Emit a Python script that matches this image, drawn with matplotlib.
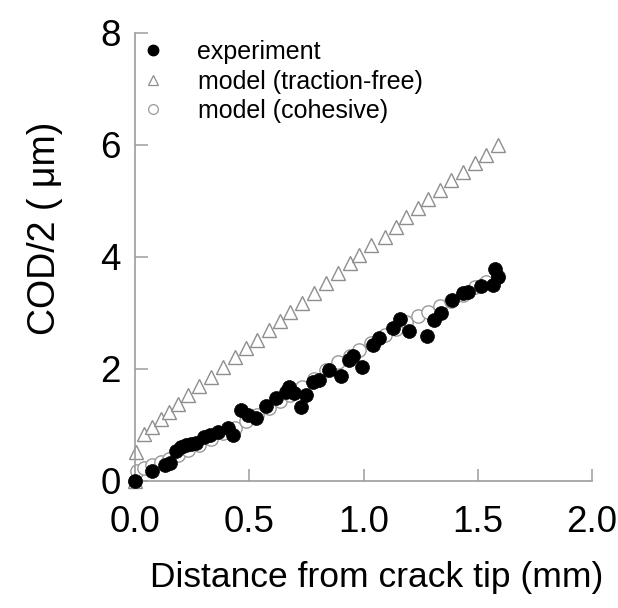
import matplotlib
matplotlib.use("Agg")
import matplotlib.pyplot as plt
from matplotlib.lines import Line2D

plt.rcParams['font.family'] = ['Liberation Sans', 'DejaVu Sans']

# experiment (black dots)
exp_x = [0.0, 0.075, 0.13, 0.152, 0.18, 0.20, 0.222, 0.245, 0.266, 0.30, 0.33, 0.365,
         0.405, 0.427, 0.466, 0.495, 0.53, 0.573, 0.617, 0.661, 0.675, 0.697, 0.727,
         0.749, 0.778, 0.807, 0.848, 0.902, 0.936, 0.956, 0.994, 1.04, 1.07, 1.129,
         1.16, 1.199, 1.278, 1.307, 1.34, 1.389, 1.436, 1.457, 1.516, 1.567, 1.575, 1.589]
exp_y = [0.0, 0.17, 0.28, 0.33, 0.53, 0.60, 0.64, 0.66, 0.68, 0.78, 0.82, 0.88,
         0.94, 0.82, 1.27, 1.18, 1.12, 1.34, 1.49, 1.59, 1.67, 1.57, 1.33,
         1.54, 1.77, 1.80, 1.98, 1.875, 2.16, 2.23, 2.04, 2.43, 2.55, 2.73,
         2.89, 2.67, 2.59, 2.875, 3.0, 3.24, 3.35, 3.38, 3.48, 3.5, 3.78, 3.65]

# model (traction-free) (open triangles)
tf_x = [0.0, 0.006, 0.04, 0.076, 0.112, 0.149, 0.19, 0.232, 0.28, 0.334, 0.387, 0.437,
        0.485, 0.536, 0.587, 0.634, 0.68, 0.73, 0.785, 0.836, 0.887, 0.939, 0.982,
        1.034, 1.092, 1.143, 1.187, 1.238, 1.282, 1.333, 1.385, 1.435, 1.487, 1.538, 1.589]
tf_y = [0.0, 0.52, 0.84, 0.97, 1.10, 1.23, 1.375, 1.54, 1.70, 1.86, 2.03, 2.21,
        2.37, 2.52, 2.70, 2.86, 3.01, 3.18, 3.35, 3.53, 3.71, 3.89, 4.04,
        4.21, 4.36, 4.54, 4.71, 4.87, 5.03, 5.20, 5.375, 5.52, 5.67, 5.82, 6.0]

# model (cohesive) (open circles)
co_x = [0.0, 0.01, 0.04, 0.076, 0.112, 0.149, 0.19, 0.232, 0.28, 0.334, 0.387, 0.437,
        0.485, 0.536, 0.587, 0.634, 0.68, 0.73, 0.785, 0.836, 0.887, 0.939, 0.982,
        1.034, 1.092, 1.143, 1.187, 1.238, 1.282, 1.333, 1.385, 1.435, 1.487, 1.538, 1.589]
co_y = [0.0, 0.18, 0.24, 0.29, 0.34, 0.39, 0.47, 0.55, 0.64, 0.75, 0.85, 0.95,
        1.07, 1.18, 1.30, 1.42, 1.54, 1.68, 1.82, 1.98, 2.12, 2.24, 2.34,
        2.46, 2.60, 2.72, 2.84, 2.94, 3.02, 3.12, 3.22, 3.32, 3.46, 3.56, 3.66]

xticks = [0.0, 0.5, 1.0, 1.5, 2.0]
xticklabels = ['0.0', '0.5', '1.0', '1.5', '2.0']
yticks = [0, 2, 4, 6, 8]
yticklabels = ['0', '2', '4', '6', '8']

W, H = 618, 608
fig = plt.figure(figsize=(W / 100, H / 100), dpi=100)
ax = fig.add_axes([135 / W, 1 - 481 / H, 457 / W, 448 / H])

gray_edge = '#8e8e8e'
ax.plot(tf_x, tf_y, linestyle='none', marker='^', ms=9.5, mfc='white',
        mec=gray_edge, mew=1.0, clip_on=False, zorder=2)
ax.plot(co_x, co_y, linestyle='none', marker='o', ms=9.6, mfc='white',
        mec='#9a9a9a', mew=1.0, clip_on=False, zorder=2)
ax.plot(exp_x, exp_y, linestyle='none', marker='o', ms=10.0, mfc='black',
        mec='black', mew=0.5, clip_on=False, zorder=3)

ax.set_xlim(0, 2)
ax.set_ylim(0, 8)
ax.set_xticks(xticks)
ax.set_xticklabels(xticklabels)
ax.set_yticks(yticks)
ax.set_yticklabels(yticklabels)

for s in ['top', 'right']:
    ax.spines[s].set_visible(False)
for s in ['left', 'bottom']:
    ax.spines[s].set_color('#9c9c9c')
    ax.spines[s].set_linewidth(1.2)

ax.tick_params(axis='both', direction='in', length=9, width=1.1, color='#9c9c9c',
               labelsize=26.5, labelcolor='black')
ax.tick_params(axis='x', pad=17)
ax.tick_params(axis='y', pad=10)

ax.set_xlabel('Distance from crack tip (mm)', fontsize=25.5)
ax.xaxis.set_label_coords((377 - 135) / 457, -(577 - 481) / 448)
ax.xaxis.label.set_va('center')
ax.set_ylabel('COD/2 ( \u03bcm)', fontsize=27)
ax.yaxis.set_label_coords(-(135 - 45) / 457, (481 - 228) / 448)
ax.yaxis.label.set_va('center')

handles = [
    Line2D([], [], linestyle='none', marker='o', ms=7.5, mfc='black', mec='black'),
    Line2D([], [], linestyle='none', marker='^', ms=7, mfc='white', mec=gray_edge, mew=0.9),
    Line2D([], [], linestyle='none', marker='o', ms=7, mfc='white', mec='#9a9a9a', mew=0.9),
]
labels = ['experiment', 'model (traction-free)', 'model (cohesive)']
fig.legend(handles, labels, loc='upper left', bbox_to_anchor=(140 / W, 1 - 40 / H),
           frameon=False, fontsize=18, handlelength=1.0, handletextpad=1.3,
           labelspacing=0.22, borderpad=0, borderaxespad=0)

fig.savefig('out.png', dpi=100)
